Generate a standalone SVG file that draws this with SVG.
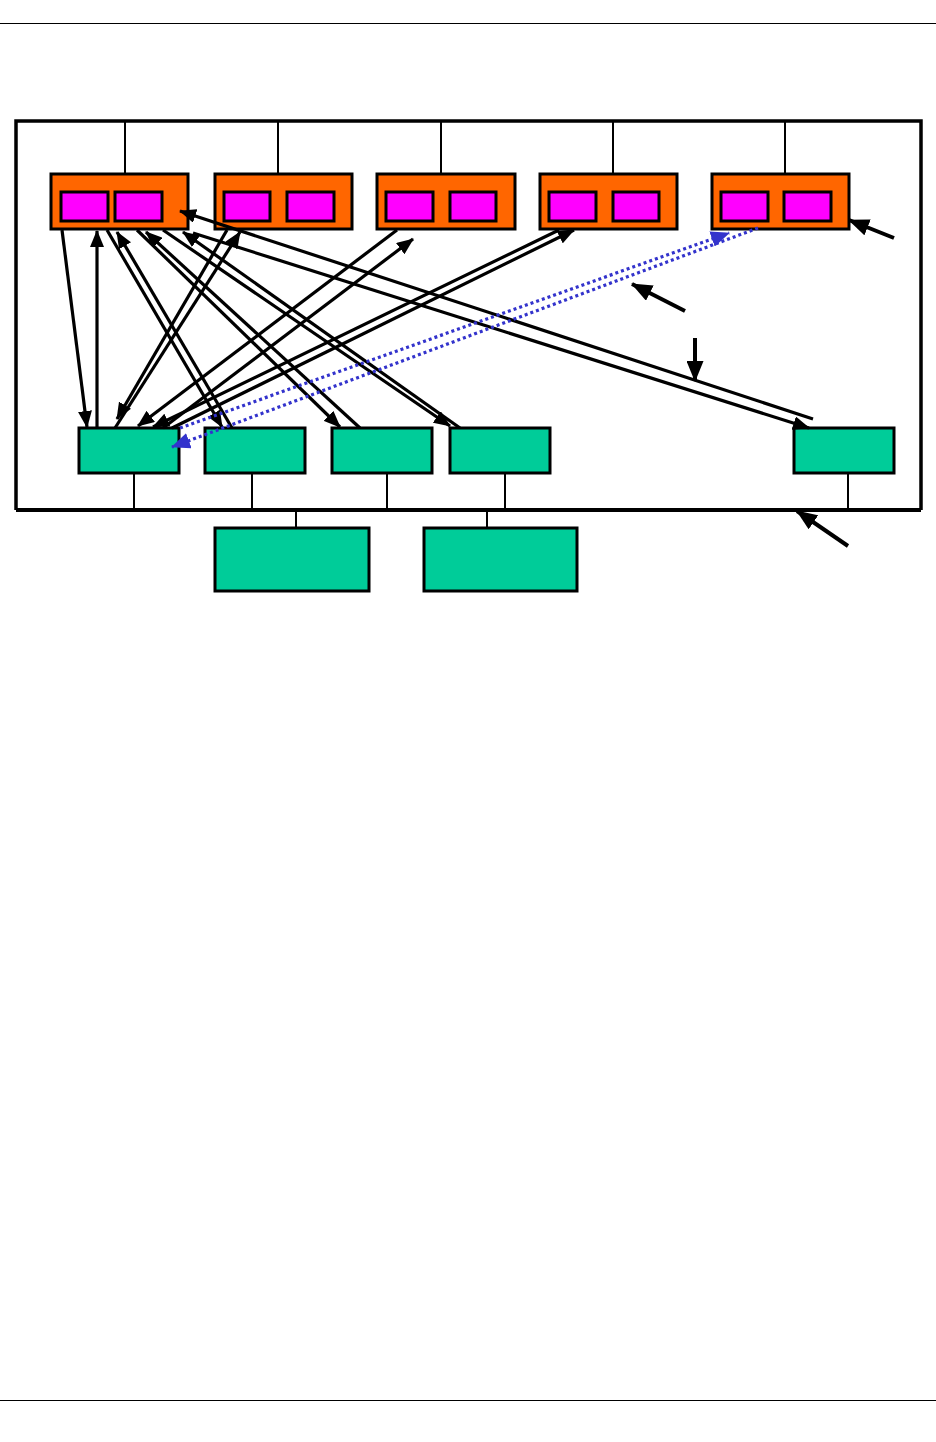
<svg xmlns="http://www.w3.org/2000/svg" width="936" height="1442" viewBox="0 0 936 1442">
<defs>
<style>
.frame{stroke:#000;stroke-width:3.5;fill:none}
.tick{stroke:#000;stroke-width:2;fill:none}
.orange{fill:#FF6600;stroke:#000;stroke-width:3}
.mag{fill:#FF00FF;stroke:#000;stroke-width:3}
.green{fill:#00CC99;stroke:#000;stroke-width:3}
.arr{stroke:#000;stroke-width:3.2;fill:none;marker-end:url(#ah)}
.dot{stroke:#3333CC;stroke-width:3.2;fill:none;stroke-dasharray:3 3;marker-end:url(#bh)}
.call{stroke:#000;stroke-width:4;fill:none;marker-end:url(#ch)}
</style>
<marker id="ah" markerUnits="userSpaceOnUse" markerWidth="17" markerHeight="14" refX="16" refY="7" orient="auto">
<path d="M0,0 L17,7 L0,14 z" fill="#000"/>
</marker>
<marker id="bh" markerUnits="userSpaceOnUse" markerWidth="19" markerHeight="16" refX="18" refY="8" orient="auto">
<path d="M0,0 L19,8 L0,16 z" fill="#3333CC"/>
</marker>
<marker id="ch" markerUnits="userSpaceOnUse" markerWidth="21" markerHeight="17" refX="20" refY="8.5" orient="auto">
<path d="M0,0 L21,8.5 L0,17 z" fill="#000"/>
</marker>
</defs>
<rect width="936" height="1442" fill="#fff"/>
<g id="page-lines">
<line x1="0" y1="23.5" x2="936" y2="23.5" stroke="#000" stroke-width="1"/>
<line x1="0" y1="1400.5" x2="936" y2="1400.5" stroke="#000" stroke-width="1"/>
</g>
<g id="frame">
<polyline class="frame" points="16,510 16,121 921,121 921,510"/>
<line x1="16" y1="510" x2="921" y2="510" stroke="#000" stroke-width="4"/>
</g>
<g id="ticks">
<line class="tick" x1="125" y1="121" x2="125" y2="174"/>
<line class="tick" x1="278" y1="121" x2="278" y2="183"/>
<line class="tick" x1="441" y1="121" x2="441" y2="174"/>
<line class="tick" x1="613" y1="121" x2="613" y2="174"/>
<line class="tick" x1="785" y1="121" x2="785" y2="183"/>
<line class="tick" x1="134" y1="473" x2="134" y2="510"/>
<line class="tick" x1="252" y1="473" x2="252" y2="510"/>
<line class="tick" x1="387" y1="473" x2="387" y2="510"/>
<line class="tick" x1="505" y1="473" x2="505" y2="510"/>
<line class="tick" x1="848" y1="473" x2="848" y2="510"/>
<line class="tick" x1="296" y1="510" x2="296" y2="537"/>
<line class="tick" x1="487" y1="510" x2="487" y2="528"/>
</g>
<g id="node-o1"><rect class="orange" x="51" y="174" width="137" height="55"/><rect class="mag" x="61" y="192" width="47" height="29"/><rect class="mag" x="115" y="192" width="47" height="29"/></g>
<g id="node-o2"><rect class="orange" x="215" y="174" width="137" height="55"/><rect class="mag" x="224" y="192" width="46" height="29"/><rect class="mag" x="287" y="192" width="47" height="29"/></g>
<g id="node-o3"><rect class="orange" x="377" y="174" width="138" height="55"/><rect class="mag" x="386" y="192" width="47" height="29"/><rect class="mag" x="450" y="192" width="46" height="29"/></g>
<g id="node-o4"><rect class="orange" x="540" y="174" width="137" height="55"/><rect class="mag" x="549" y="192" width="47" height="29"/><rect class="mag" x="613" y="192" width="46" height="29"/></g>
<g id="node-o5"><rect class="orange" x="712" y="174" width="137" height="55"/><rect class="mag" x="721" y="192" width="47" height="29"/><rect class="mag" x="784" y="192" width="47" height="29"/></g>
<g id="node-g1"><rect class="green" x="79" y="428" width="100" height="45"/></g>
<g id="node-g2"><rect class="green" x="205" y="428" width="100" height="45"/></g>
<g id="node-g3"><rect class="green" x="332" y="428" width="100" height="45"/></g>
<g id="node-g4"><rect class="green" x="450" y="428" width="100" height="45"/></g>
<g id="node-g5"><rect class="green" x="794" y="428" width="100" height="45"/></g>
<g id="node-b1"><rect class="green" x="215" y="528" width="154" height="63"/></g>
<g id="node-b2"><rect class="green" x="424" y="528" width="153" height="63"/></g>
<g id="connectors">
<line class="arr" x1="62" y1="230" x2="87" y2="427"/>
<line class="arr" x1="97" y1="428" x2="97" y2="231"/>
<line class="arr" x1="107" y1="230" x2="222" y2="427"/>
<line class="arr" x1="232" y1="428" x2="117" y2="232"/>
<line class="arr" x1="137" y1="230" x2="340" y2="427"/>
<line class="arr" x1="360" y1="428" x2="146" y2="232"/>
<line class="arr" x1="163" y1="230" x2="450" y2="426"/>
<line class="arr" x1="460" y1="428" x2="183" y2="232"/>
<line class="arr" x1="813" y1="419" x2="180" y2="211"/>
<line class="arr" x1="193" y1="233" x2="809" y2="428"/>
<line class="arr" x1="227" y1="230" x2="117" y2="419"/>
<line class="arr" x1="115" y1="428" x2="240" y2="232"/>
<line class="arr" x1="397" y1="230" x2="138" y2="426"/>
<line class="arr" x1="163" y1="428" x2="413" y2="239"/>
<line class="arr" x1="559" y1="230" x2="153" y2="427"/>
<line class="arr" x1="172" y1="428" x2="574" y2="230"/>
<line class="dot" x1="758" y1="228" x2="172" y2="447"/>
<line class="dot" x1="180" y1="428" x2="729" y2="233"/>
<line class="call" x1="894" y1="238" x2="849" y2="220"/>
<line class="call" x1="685" y1="311" x2="632" y2="284"/>
<line class="call" x1="695" y1="338" x2="695" y2="381"/>
<line class="call" x1="848" y1="546" x2="797" y2="511"/>
</g>
</svg>
